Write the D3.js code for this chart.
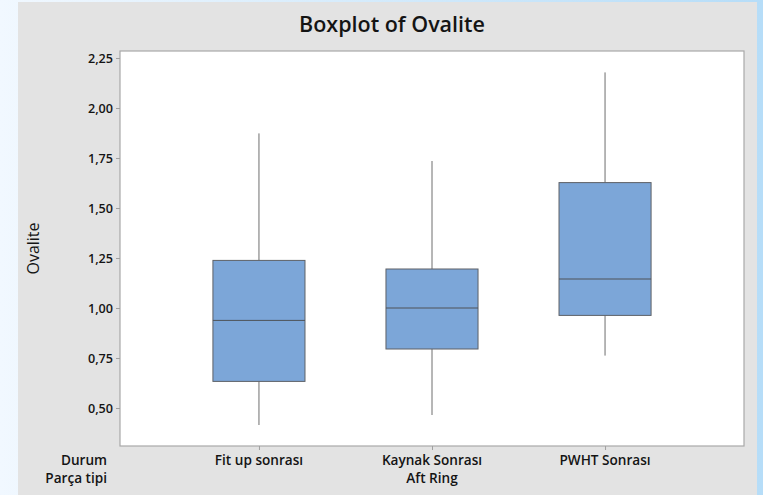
<!DOCTYPE html>
<html>
<head>
<meta charset="utf-8">
<script src="https://cdn.jsdelivr.net/npm/d3@7"></script>
<style>
  html, body { margin: 0; padding: 0; }
  body { width: 763px; height: 495px; overflow: hidden; }
  svg { display: block; }
  text { font-family: "Open Sans", "Noto Sans", sans-serif; fill: #141414; }
</style>
</head>
<body>
<svg id="chart" width="763" height="495"></svg>
<script>
// Groups along the x axis
const categories = ["Fit up sonrası", "Kaynak Sonrası", "PWHT Sonrası"];
// Five-number summaries per group
const whiskerLow = [0.415, 0.465, 0.762];
const q1Values = [0.633, 0.795, 0.963];
const medianValues = [0.938, 1.000, 1.145];
const q3Values = [1.238, 1.195, 1.627];
const whiskerHigh = [1.873, 1.735, 2.178];
// Y tick values
const yTicks = [0.50, 0.75, 1.00, 1.25, 1.50, 1.75, 2.00, 2.25];

const svg = d3.select("#chart");
const W = 763, H = 495;

// Page backdrop
const defs = svg.append("defs");
const grad = defs.append("linearGradient").attr("id", "bg").attr("x1", 0).attr("x2", 1).attr("y1", 0).attr("y2", 0);
grad.append("stop").attr("offset", "0%").attr("stop-color", "#f1f8ff");
grad.append("stop").attr("offset", "100%").attr("stop-color", "#b6ddf8");
svg.append("rect").attr("width", W).attr("height", H).attr("fill", "url(#bg)");

// Grey chart panel
svg.append("rect").attr("x", 18).attr("y", 2).attr("width", 739).attr("height", 493).attr("fill", "#e3e3e3");

const plot = { left: 120, top: 51, right: 744, bottom: 446 };

const y = d3.scaleLinear().domain([0.31, 2.285]).range([plot.bottom, plot.top]);
const x = d3.scalePoint().domain(categories).range([plot.left, plot.right]).padding(0.803);
const boxW = x.step() * 0.532;

// Plot area
svg.append("rect")
  .attr("x", plot.left).attr("y", plot.top)
  .attr("width", plot.right - plot.left).attr("height", plot.bottom - plot.top)
  .attr("fill", "#ffffff").attr("stroke", "#a8a8a8").attr("stroke-width", 1.2);

// Y axis
const fmt = v => d3.format(".2f")(v).replace(".", ",");
const yAxis = svg.append("g")
  .attr("transform", `translate(${plot.left},0)`)
  .call(d3.axisLeft(y).tickValues(yTicks).tickFormat(fmt).tickSize(4).tickPadding(3));
yAxis.select(".domain").remove();
yAxis.selectAll(".tick line").attr("stroke", "#a0a0a0");
yAxis.selectAll(".tick text")
  .style("font-size", "12.6px").style("font-weight", "600")
  .attr("fill", "#141414");

// X axis ticks
const xAxis = svg.append("g")
  .attr("transform", `translate(0,${plot.bottom})`)
  .call(d3.axisBottom(x).tickSize(4).tickFormat(""));
xAxis.select(".domain").remove();
xAxis.selectAll(".tick line").attr("stroke", "#a0a0a0");

// Boxes
const rows = categories.map((c, i) => ({
  c, lo: whiskerLow[i], q1: q1Values[i], med: medianValues[i], q3: q3Values[i], hi: whiskerHigh[i]
}));

const g = svg.append("g").selectAll("g").data(rows).join("g");

g.append("line")
  .attr("x1", d => x(d.c)).attr("x2", d => x(d.c))
  .attr("y1", d => y(d.hi)).attr("y2", d => y(d.q3))
  .attr("stroke", "#6e6e6e").attr("stroke-width", 1);
g.append("line")
  .attr("x1", d => x(d.c)).attr("x2", d => x(d.c))
  .attr("y1", d => y(d.q1)).attr("y2", d => y(d.lo))
  .attr("stroke", "#6e6e6e").attr("stroke-width", 1);
g.append("rect")
  .attr("x", d => x(d.c) - boxW / 2).attr("width", boxW)
  .attr("y", d => y(d.q3)).attr("height", d => y(d.q1) - y(d.q3))
  .attr("fill", "#7ca6d8").attr("stroke", "#5e6166").attr("stroke-width", 1);
g.append("line")
  .attr("x1", d => x(d.c) - boxW / 2).attr("x2", d => x(d.c) + boxW / 2)
  .attr("y1", d => y(d.med)).attr("y2", d => y(d.med))
  .attr("stroke", "#4e5258").attr("stroke-width", 1);

// Category labels
const labelSize = "13.6px";
svg.append("g").selectAll("text").data(categories).join("text")
  .attr("x", d => x(d)).attr("y", 465)
  .attr("text-anchor", "middle")
  .style("font-size", labelSize).style("font-weight", "600")
  .text(d => d);

svg.append("text").attr("x", 107).attr("y", 465).attr("text-anchor", "end")
  .style("font-size", labelSize).style("font-weight", "600").text("Durum");
svg.append("text").attr("x", 107).attr("y", 483).attr("text-anchor", "end")
  .style("font-size", labelSize).style("font-weight", "600").text("Parça tipi");
svg.append("text").attr("x", x(categories[1])).attr("y", 483).attr("text-anchor", "middle")
  .style("font-size", labelSize).style("font-weight", "600").text("Aft Ring");

// Y axis title
svg.append("text")
  .attr("transform", `translate(39,${(plot.top + plot.bottom) / 2}) rotate(-90)`)
  .attr("text-anchor", "middle")
  .style("font-size", "16px").style("font-weight", "500")
  .text("Ovalite");

// Title
svg.append("text")
  .attr("x", 392).attr("y", 32).attr("text-anchor", "middle")
  .style("font-size", "21.5px").style("font-weight", "600")
  .text("Boxplot of Ovalite");
</script>
</body>
</html>
